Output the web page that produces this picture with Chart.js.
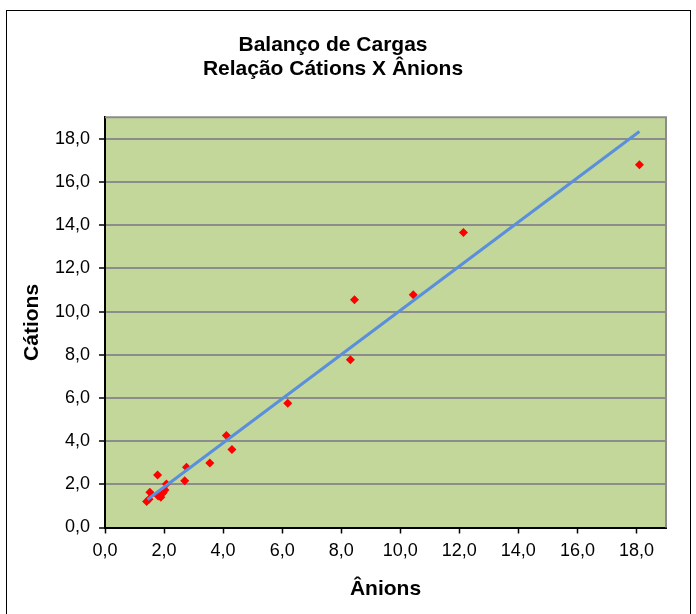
<!DOCTYPE html>
<html>
<head>
<meta charset="utf-8">
<script src="https://cdn.jsdelivr.net/npm/chart.js@4.4.1/dist/chart.umd.min.js"></script>
<style>
  html, body { margin: 0; padding: 0; background: #fff; }
  #wrap { width: 696px; height: 614px; }
</style>
</head>
<body>
<div id="wrap"><canvas id="chart" width="696" height="614"></canvas></div>
<script>
// valores
const anions  = [1.41, 1.49, 1.52, 1.78, 1.80, 1.89, 1.97, 2.03, 2.08, 2.70, 2.76, 3.55, 4.11, 4.30, 6.19, 8.31, 8.45, 10.44, 12.14, 18.10];
const cations = [1.20, 1.31, 1.63, 2.43, 1.46, 1.40, 1.61, 1.74, 2.02, 2.17, 2.79, 2.99, 4.26, 3.61, 5.76, 7.77, 10.55, 10.78, 13.66, 16.80];
// linha de tendência (extremos)
const trendX = [1.44, 18.10];
const trendY = [1.30, 18.34];
const titleLines = ['Balanço de Cargas', 'Relação Cátions X Ânions'];

const FONT = "'Liberation Sans', Arial, sans-serif";

const plotBg = {
    id: 'plotBg',
    beforeDraw(chart) {
        const { ctx, chartArea: a } = chart;
        ctx.save();
        // moldura externa
        ctx.strokeStyle = '#000';
        ctx.lineWidth = 1;
        ctx.strokeRect(6.5, 10.5, 684, 700);
        ctx.fillStyle = '#c4d79b';
        ctx.fillRect(a.left, a.top, a.right - a.left, a.bottom - a.top);
        ctx.restore();
    },
    beforeDatasetsDraw(chart) {
        const { ctx, chartArea: a } = chart;
        ctx.save();
        ctx.strokeStyle = '#8c8c8c';
        ctx.lineWidth = 2;
        ctx.beginPath();
        ctx.moveTo(a.left, a.top);
        ctx.lineTo(a.right, a.top);
        ctx.lineTo(a.right, a.bottom);
        ctx.stroke();
        ctx.restore();
    }
};

new Chart(document.getElementById('chart'), {
    type: 'scatter',
    data: {
        datasets: [
            {
                label: 'Tendência',
                data: trendX.map((x, i) => ({ x, y: trendY[i] })),
                showLine: true,
                borderColor: '#5a8fdc',
                borderWidth: 3,
                pointRadius: 0,
                order: 1
            },
            {
                label: 'Amostras',
                data: anions.map((x, i) => ({ x, y: cations[i] })),
                pointStyle: 'rectRot',
                pointRadius: 4.5,
                backgroundColor: '#ff0000',
                borderColor: '#ff0000',
                borderWidth: 0,
                order: 2
            }
        ]
    },
    options: {
        responsive: false,
        animation: false,
        layout: { padding: { left: 0, right: 30, top: 0, bottom: 0 } },
        plugins: {
            legend: { display: false },
            tooltip: { enabled: false },
            title: {
                display: true,
                text: titleLines,
                color: '#000',
                font: { family: FONT, size: 21, weight: 'bold', lineHeight: 1.15 },
                padding: { top: 33, bottom: 36 }
            }
        },
        scales: {
            x: {
                type: 'linear',
                min: 0, max: 19,
                afterFit(s) { s.height = 86.5; },
                ticks: {
                    stepSize: 2, includeBounds: false,
                    color: '#000', padding: 7,
                    font: { family: FONT, size: 18 },
                    callback: v => v.toFixed(1).replace('.', ',')
                },
                grid: { drawOnChartArea: false, drawTicks: true, tickLength: 6, tickColor: '#000', tickWidth: 1.5 },
                border: { color: '#000', width: 2 },
                title: {
                    display: true, text: 'Ânions', color: '#000',
                    font: { family: FONT, size: 21, weight: 'bold' },
                    padding: { top: 0, bottom: 12 }
                }
            },
            y: {
                type: 'linear',
                min: 0, max: 19,
                afterFit(s) { s.width = 105; },
                ticks: {
                    stepSize: 2, includeBounds: false,
                    color: '#000', padding: 9,
                    font: { family: FONT, size: 18 },
                    callback: v => v.toFixed(1).replace('.', ',')
                },
                grid: { color: '#8c8c8c', lineWidth: 2, drawTicks: true, tickLength: 6, tickColor: '#000', tickWidth: 1.5 },
                border: { color: '#000', width: 2 },
                title: {
                    display: true, text: 'Cátions', color: '#000',
                    font: { family: FONT, size: 21, weight: 'bold' },
                    padding: { top: 20, bottom: 0 }
                }
            }
        }
    },
    plugins: [plotBg]
});
</script>
</body>
</html>
